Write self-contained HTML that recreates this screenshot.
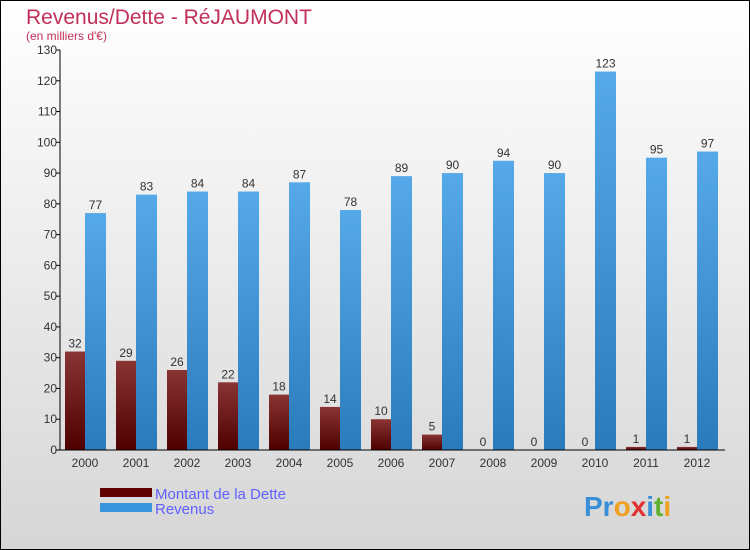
<!DOCTYPE html>
<html><head><meta charset="utf-8"><style>
body{margin:0;}
#c{position:relative;width:748px;height:548px;border:1px solid #000;background:linear-gradient(#fff,#d6d6d6);font-family:"Liberation Sans",sans-serif;overflow:hidden}
</style></head><body>
<div id="c">
<svg width="748" height="548" id="svg">
<defs>
<linearGradient id="gd" x1="0" y1="0" x2="0" y2="1"><stop offset="0" stop-color="#8a3434"/><stop offset="1" stop-color="#4e0000"/></linearGradient>
<linearGradient id="gr" x1="0" y1="0" x2="0" y2="1"><stop offset="0" stop-color="#56a9e8"/><stop offset="1" stop-color="#2a7bbb"/></linearGradient>
</defs>
<text x="25" y="23" font-size="21" fill="#c0305a">Revenus/Dette - RéJAUMONT</text>
<text x="25" y="39" font-size="12" fill="#c0305a">(en milliers d'€)</text>
<g id="bars"></g>
<g id="axes"></g>
<rect x="99" y="487" width="52" height="9" fill="#600000"/>
<rect x="99" y="502" width="52" height="9" fill="#3a96dc"/>
<text x="154" y="498" font-size="15" fill="#6060ff">Montant de la Dette</text>
<text x="154" y="513" font-size="15" fill="#6060ff">Revenus</text>
<text x="583" y="515" font-size="28" font-weight="bold"><tspan fill="#3a8fd8">Pr</tspan><tspan fill="#f0a020">o</tspan><tspan fill="#e03030">x</tspan><tspan fill="#3a8fd8">i</tspan><tspan fill="#60b030">t</tspan><tspan fill="#f0a020">i</tspan></text>
</svg>
</div>
<script>
const years=["2000","2001","2002","2003","2004","2005","2006","2007","2008","2009","2010","2011","2012"];
const dette=[32,29,26,22,18,14,10,5,0,0,0,1,1];
const revenus=[77,83,84,84,87,78,89,90,94,90,123,95,97];
const yTicks=[0,10,20,30,40,50,60,70,80,90,100,110,120,130];
const NS="http://www.w3.org/2000/svg";
const y0=449,yTop=49,maxV=130,x0=59,step=51,first=84;
const yS=v=>y0-(y0-yTop)*v/maxV;
const xC=i=>first+i*step;
const bars=document.getElementById('bars'),axes=document.getElementById('axes');
function mk(t,a,p){const e=document.createElementNS(NS,t);for(const k in a)e.setAttribute(k,a[k]);p.appendChild(e);return e;}
years.forEach((yr,i)=>{
  const cx=xC(i);
  let r=mk('rect',{x:cx-20,y:yS(dette[i]),width:20,height:y0-yS(dette[i]),fill:'url(#gd)'},bars);
  
  
  let r2=mk('rect',{x:cx,y:yS(revenus[i]),width:21,height:y0-yS(revenus[i]),fill:'url(#gr)'},bars);
  
  
  let t=mk('text',{x:cx-10,y:yS(dette[i])-4,'font-size':12,fill:'#333','text-anchor':'middle'},bars);t.textContent=dette[i];
  
  
  let t2=mk('text',{x:cx+10.5,y:yS(revenus[i])-4,'font-size':12,fill:'#333','text-anchor':'middle'},bars);t2.textContent=revenus[i];
  
  
  let tx=mk('text',{x:cx,y:466,'font-size':12,fill:'#333','text-anchor':'middle'},axes);tx.textContent=yr;
  
  
});
yTicks.forEach(v=>{
  mk('line',{x1:x0-4,x2:x0,y1:yS(v),y2:yS(v),stroke:'#000'},axes);
  let t=mk('text',{x:x0-3,y:yS(v)+4,'font-size':12,fill:'#333','text-anchor':'end'},axes);t.textContent=v;
  
  
});
let ya=mk('line',{x1:x0,x2:x0,y1:yTop,y2:y0,stroke:'#000'},axes);


let xa=mk('line',{x1:x0,x2:724,y1:y0,y2:y0,stroke:'#000'},axes);


</script>
</body></html>
